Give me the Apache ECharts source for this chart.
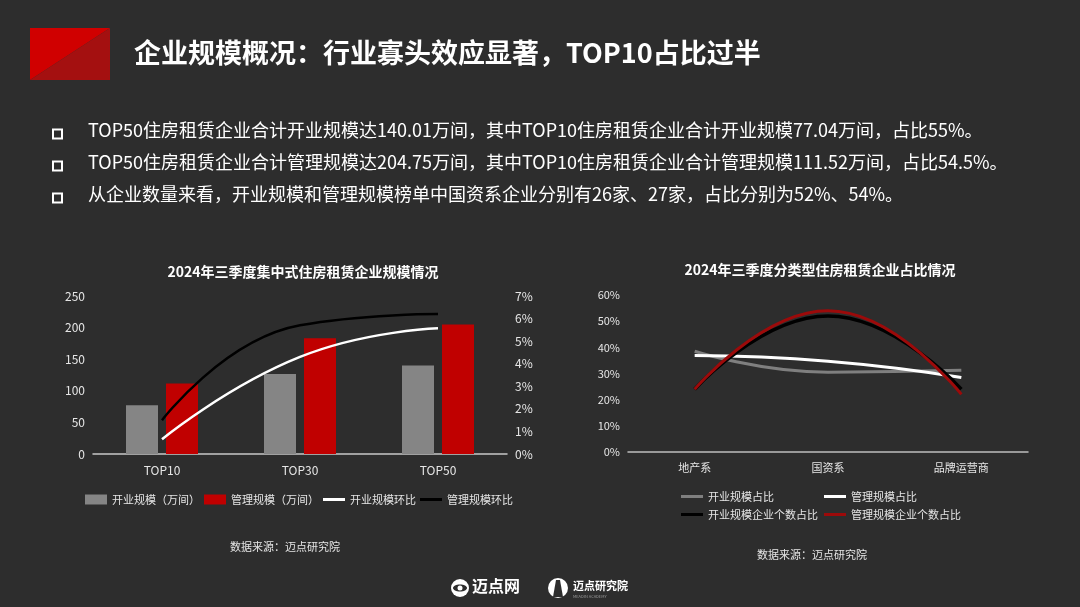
<!DOCTYPE html>
<html><head><meta charset="utf-8">
<script src="https://cdn.jsdelivr.net/npm/echarts@6/dist/echarts.min.js"></script>
<style>html,body{margin:0;padding:0;background:#2d2d2d;}#c{width:1080px;height:607px;}</style>
</head><body><div id="c"></div>
<script>
// ---- data ----
const leftCategories = ['TOP10', 'TOP30', 'TOP50'];
const openScale = [77.04, 126.5, 140.01];      // 开业规模（万间）
const manageScale = [111.52, 183, 204.75];     // 管理规模（万间）
const openQoQ = [0.65, 4.3, 5.57];             // 开业规模环比 (%)
const manageQoQ = [1.5, 5.7, 6.2];             // 管理规模环比 (%)

const rightCategories = ['地产系', '国资系', '品牌运营商'];
const openShare = [38.5, 30.5, 31.2];          // 开业规模占比 (%)
const manageShare = [36.9, 34.7, 28.5];        // 管理规模占比 (%)
const openCountShare = [24, 52, 24];           // 开业规模企业个数占比 (%)
const manageCountShare = [24, 54, 22];         // 管理规模企业个数占比 (%)

const bullets = [
  'TOP50住房租赁企业合计开业规模达140.01万间，其中TOP10住房租赁企业合计开业规模77.04万间，占比55%。',
  'TOP50住房租赁企业合计管理规模达204.75万间，其中TOP10住房租赁企业合计管理规模111.52万间，占比54.5%。',
  '从企业数量来看，开业规模和管理规模榜单中国资系企业分别有26家、27家，占比分别为52%、54%。'
];

const FONT = '"Noto Sans CJK SC", "Noto Sans", sans-serif';
const TXT = '#e6e6e6';
const LINE_ICON = 'path://M0,0 L22,0 L22,3 L0,3 Z';

const chart = echarts.init(document.getElementById('c'), null, {renderer: 'canvas'});

const graphics = [
  // header red block
  {type: 'polygon', shape: {points: [[30,28],[110,28],[30,80]]}, style: {fill: '#d00000'}},
  {type: 'polygon', shape: {points: [[110,28],[110,80],[30,80]]}, style: {fill: '#a41010'}},
  {type: 'text', left: 134, top: 39, style: {text: '企业规模概况：行业寡头效应显著，TOP10占比过半', fill: '#ffffff', font: 'bold 27px ' + FONT}},
  // sources
  {type: 'text', left: 230, top: 541, style: {text: '数据来源：迈点研究院', fill: TXT, font: '11px ' + FONT}},
  {type: 'text', left: 757, top: 549, style: {text: '数据来源：迈点研究院', fill: TXT, font: '11px ' + FONT}},
  // logos
  {type: 'circle', shape: {cx: 460, cy: 588, r: 9}, style: {fill: '#ffffff'}},
  {type: 'ellipse', shape: {cx: 460, cy: 588, rx: 7, ry: 3.5}, style: {fill: '#2d2d2d'}},
  {type: 'circle', shape: {cx: 460, cy: 588, r: 2.5}, style: {fill: '#ffffff'}},
  {type: 'text', left: 472, top: 578, style: {text: '迈点网', fill: '#ffffff', font: 'bold 16px ' + FONT}},
  {type: 'circle', shape: {cx: 558, cy: 588, r: 10}, style: {fill: '#ffffff'}},
  {type: 'polygon', shape: {points: [[556,580],[560,580],[563,597],[553,597]]}, style: {fill: '#2d2d2d'}},
  {type: 'text', left: 573, top: 580, style: {text: '迈点研究院', fill: '#ffffff', font: 'bold 11px ' + FONT}},
  {type: 'text', left: 573, top: 594, style: {text: 'MEADIN ACADEMY', fill: '#9a9a9a', font: '4px ' + FONT}}
];
bullets.forEach((t, i) => {
  const cy = 134 + i * 32;
  graphics.push({type: 'rect', shape: {x: 53, y: cy - 4.5, width: 9, height: 9}, style: {fill: 'none', stroke: '#ffffff', lineWidth: 2}});
  graphics.push({type: 'text', left: 88, top: cy - 12.5, style: {text: t, fill: '#ffffff', font: '18px ' + FONT}});
});

const axisLabel = {color: TXT, fontSize: 12, fontFamily: FONT};
const legendText = {color: TXT, fontSize: 11, fontFamily: FONT};

chart.setOption({
  backgroundColor: '#2d2d2d',
  animation: false,
  textStyle: {fontFamily: FONT},
  graphic: graphics,
  title: [
    {text: '2024年三季度集中式住房租赁企业规模情况', left: 298, top: 260, textAlign: 'center',
     textStyle: {color: '#ffffff', fontSize: 14, fontWeight: 'bold', fontFamily: FONT}},
    {text: '2024年三季度分类型住房租赁企业占比情况', left: 815, top: 258, textAlign: 'center',
     textStyle: {color: '#ffffff', fontSize: 14, fontWeight: 'bold', fontFamily: FONT}}
  ],
  legend: [
    {left: 80, top: 489, itemWidth: 22, itemHeight: 10, itemGap: 4, textStyle: legendText,
     data: [{name: '开业规模（万间）', icon: 'rect'}, {name: '管理规模（万间）', icon: 'rect'},
            {name: '开业规模环比', icon: LINE_ICON}, {name: '管理规模环比', icon: LINE_ICON}]},
    {left: 676, top: 486, itemWidth: 22, itemHeight: 10, textStyle: legendText, data: [{name: '开业规模占比', icon: LINE_ICON}]},
    {left: 819, top: 486, itemWidth: 22, itemHeight: 10, textStyle: legendText, data: [{name: '管理规模占比', icon: LINE_ICON}]},
    {left: 676, top: 504, itemWidth: 22, itemHeight: 10, textStyle: legendText, data: [{name: '开业规模企业个数占比', icon: LINE_ICON}]},
    {left: 819, top: 504, itemWidth: 22, itemHeight: 10, textStyle: legendText, data: [{name: '管理规模企业个数占比', icon: LINE_ICON}]}
  ],
  grid: [
    {left: 93, top: 296, width: 414, height: 158},
    {left: 628, top: 295, width: 400, height: 157}
  ],
  xAxis: [
    {type: 'category', gridIndex: 0, data: leftCategories,
     axisLine: {lineStyle: {color: '#c8c8c8', width: 1.5}}, axisTick: {show: false},
     axisLabel: Object.assign({margin: 10}, axisLabel)},
    {type: 'category', gridIndex: 1, data: rightCategories,
     axisLine: {lineStyle: {color: '#bdbdbd', width: 1.5}}, axisTick: {show: false},
     axisLabel: Object.assign({margin: 10}, axisLabel, {fontSize: 11})}
  ],
  yAxis: [
    {type: 'value', gridIndex: 0, min: 0, max: 250, interval: 50, splitLine: {show: false},
     axisLine: {show: false}, axisTick: {show: false}, axisLabel: axisLabel},
    {type: 'value', gridIndex: 0, position: 'right', min: 0, max: 7, interval: 1, splitLine: {show: false},
     axisLine: {show: false}, axisTick: {show: false}, axisLabel: Object.assign({formatter: '{value}%'}, axisLabel)},
    {type: 'value', gridIndex: 1, min: 0, max: 60, interval: 10, splitLine: {show: false},
     axisLine: {show: false}, axisTick: {show: false}, axisLabel: Object.assign({formatter: '{value}%'}, axisLabel, {fontSize: 11})}
  ],
  series: [
    {name: '开业规模（万间）', type: 'bar', xAxisIndex: 0, yAxisIndex: 0, data: openScale,
     barWidth: 32, barGap: '25%', itemStyle: {color: '#858585'}},
    {name: '管理规模（万间）', type: 'bar', xAxisIndex: 0, yAxisIndex: 0, data: manageScale,
     barWidth: 32, barGap: '25%', itemStyle: {color: '#c00000'}},
    {name: '开业规模环比', type: 'line', xAxisIndex: 0, yAxisIndex: 1, data: openQoQ, smooth: true,
     symbol: 'none', lineStyle: {color: '#ffffff', width: 2.5}, itemStyle: {color: '#ffffff'}},
    {name: '管理规模环比', type: 'line', xAxisIndex: 0, yAxisIndex: 1, data: manageQoQ, smooth: true,
     symbol: 'none', lineStyle: {color: '#000000', width: 2.5}, itemStyle: {color: '#000000'}},
    {name: '开业规模占比', type: 'line', xAxisIndex: 1, yAxisIndex: 2, data: openShare, smooth: true,
     symbol: 'none', lineStyle: {color: '#7f7f7f', width: 3}, itemStyle: {color: '#7f7f7f'}},
    {name: '管理规模占比', type: 'line', xAxisIndex: 1, yAxisIndex: 2, data: manageShare, smooth: true,
     symbol: 'none', lineStyle: {color: '#ffffff', width: 3}, itemStyle: {color: '#ffffff'}},
    {name: '开业规模企业个数占比', type: 'line', xAxisIndex: 1, yAxisIndex: 2, data: openCountShare, smooth: true,
     symbol: 'none', lineStyle: {color: '#000000', width: 3.5}, itemStyle: {color: '#000000'}},
    {name: '管理规模企业个数占比', type: 'line', xAxisIndex: 1, yAxisIndex: 2, data: manageCountShare, smooth: true,
     symbol: 'none', lineStyle: {color: '#9c0a0a', width: 3}, itemStyle: {color: '#9c0a0a'}}
  ]
});
</script></body></html>
